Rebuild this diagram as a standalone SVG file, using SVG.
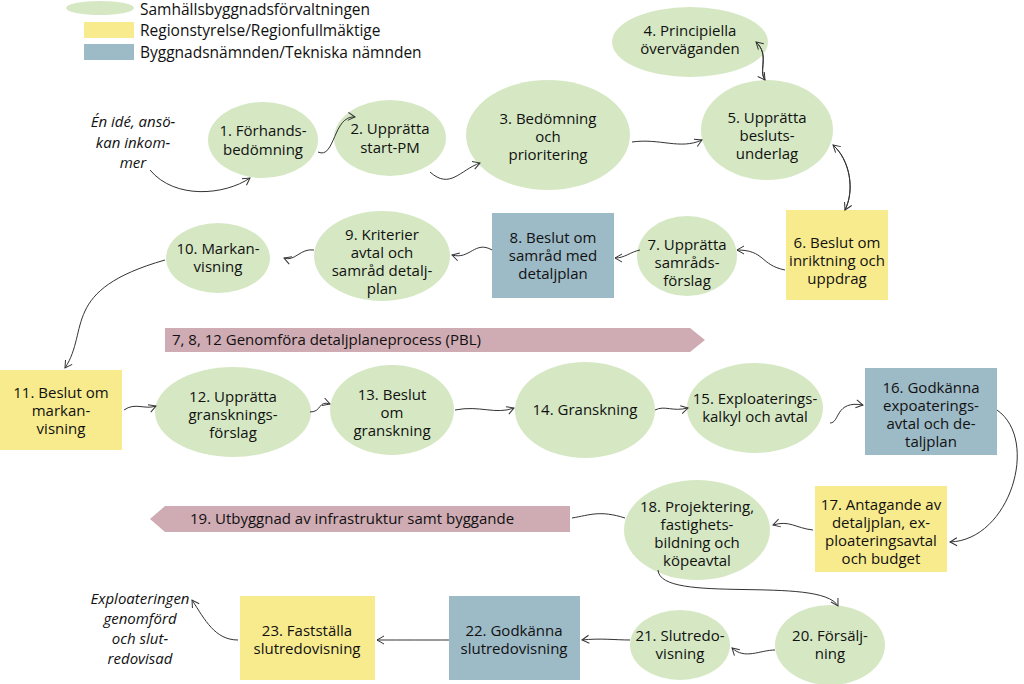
<svg xmlns="http://www.w3.org/2000/svg" width="1024" height="684" viewBox="0 0 1024 684">
<style>
text{font-family:"Open Sans","Liberation Sans",sans-serif;font-size:15px;fill:#111;text-anchor:middle}
.it{font-style:italic}
.lg{text-anchor:start}
.g{fill:#d5e8c3}
.y{fill:#f8eb8e}
.b{fill:#9dbac7}
.p{fill:#cfabb3}
#connectors path{fill:none;stroke:#333;stroke-width:1}
</style>
<defs>
<marker id="a" markerWidth="10" markerHeight="10" refX="8" refY="5" orient="auto" markerUnits="userSpaceOnUse">
<path d="M1,1 L8,5 L1,9" fill="none" stroke="#333" stroke-width="1"/>
</marker>
</defs>
<rect width="1024" height="684" fill="#fff"/>
<g id="legend">
<ellipse class="g" cx="100" cy="8" rx="34" ry="7"/>
<rect class="y" x="84" y="22" width="50" height="16"/>
<rect class="b" x="84" y="44" width="50" height="16"/>
<text class="lg" x="140" y="15" style="font-size:15.5px">Samhällsbyggnadsförvaltningen</text>
<text class="lg" x="140" y="36" style="font-size:15.5px">Regionstyrelse/Regionfullmäktige</text>
<text class="lg" x="140" y="58" style="font-size:15.5px">Byggnadsnämnden/Tekniska nämnden</text>
</g>
<g id="start"><text class="it" x="133" y="127">Én idé, ansö-</text><text class="it" x="133" y="148">kan inkom-</text><text class="it" x="133" y="168">mer</text></g>
<g id="n1"><ellipse class="g" cx="263" cy="140" rx="55" ry="38"/><text x="263" y="136">1. Förhands-</text><text x="263" y="155">bedömning</text></g>
<g id="n2"><ellipse class="g" cx="390" cy="138" rx="56" ry="38"/><text x="390" y="134">2. Upprätta</text><text x="390" y="153">start-PM</text></g>
<g id="n3"><ellipse class="g" cx="548" cy="135" rx="82" ry="55"/><text x="548" y="124">3. Bedömning</text><text x="548" y="142">och</text><text x="548" y="160">prioritering</text></g>
<g id="n4"><ellipse class="g" cx="690" cy="42" rx="78" ry="35"/><text x="690" y="36">4. Principiella</text><text x="690" y="54">överväganden</text></g>
<g id="n5"><ellipse class="g" cx="767" cy="130" rx="66" ry="50"/><text x="767" y="123">5. Upprätta</text><text x="767" y="141">besluts-</text><text x="767" y="159">underlag</text></g>
<g id="n6"><rect class="y" x="786" y="210" width="102" height="90"/><text x="837" y="248">6. Beslut om</text><text x="837" y="266">inriktning och</text><text x="837" y="284">uppdrag</text></g>
<g id="n7"><ellipse class="g" cx="687" cy="256" rx="50" ry="40"/><text x="687" y="250">7. Upprätta</text><text x="687" y="268">samråds-</text><text x="687" y="286">förslag</text></g>
<g id="n8"><rect class="b" x="492" y="213" width="122" height="85"/><text x="553" y="243">8. Beslut om</text><text x="553" y="261">samråd med</text><text x="553" y="279">detaljplan</text></g>
<g id="n9"><ellipse class="g" cx="382" cy="256" rx="68" ry="45"/><text x="382" y="240">9. Kriterier</text><text x="382" y="258">avtal och</text><text x="382" y="276">samråd detalj-</text><text x="382" y="294">plan</text></g>
<g id="n10"><ellipse class="g" cx="218" cy="258" rx="52" ry="35"/><text x="218" y="254">10. Markan-</text><text x="218" y="272">visning</text></g>
<g id="a1"><path class="p" d="M165,328 H690 L705,340 L690,352 H165 Z"/><text class="lg" x="172" y="345">7, 8, 12  Genomföra detaljplaneprocess (PBL)</text></g>
<g id="n11"><rect class="y" x="0" y="370" width="122" height="80"/><text x="61" y="398">11. Beslut om</text><text x="61" y="416">markan-</text><text x="61" y="434">visning</text></g>
<g id="n12"><ellipse class="g" cx="233" cy="412" rx="78" ry="45"/><text x="233" y="402">12.  Upprätta</text><text x="233" y="420">gransknings-</text><text x="233" y="438">förslag</text></g>
<g id="n13"><ellipse class="g" cx="392" cy="410" rx="62" ry="45"/><text x="392" y="400">13. Beslut</text><text x="392" y="418">om</text><text x="392" y="436">granskning</text></g>
<g id="n14"><ellipse class="g" cx="585" cy="410" rx="70" ry="48"/><text x="585" y="415">14. Granskning</text></g>
<g id="n15"><ellipse class="g" cx="755" cy="408" rx="68" ry="45"/><text x="755" y="404">15. Exploaterings-</text><text x="755" y="422">kalkyl och avtal</text></g>
<g id="n16"><rect class="b" x="865" y="368" width="132" height="87"/><text x="931" y="393">16. Godkänna</text><text x="931" y="411">expoaterings-</text><text x="931" y="429">avtal och de-</text><text x="931" y="447">taljplan</text></g>
<g id="n17"><rect class="y" x="815" y="486" width="132" height="86"/><text x="881" y="510">17. Antagande av</text><text x="881" y="528">detaljplan, ex-</text><text x="881" y="546">ploateringsavtal</text><text x="881" y="564">och budget</text></g>
<g id="n18"><ellipse class="g" cx="697" cy="530" rx="73" ry="50"/><text x="697" y="512">18. Projektering,</text><text x="697" y="530">fastighets-</text><text x="697" y="548">bildning och</text><text x="697" y="566">köpeavtal</text></g>
<g id="a2"><path class="p" d="M570,506 H165 L150,519 L165,532 H570 Z"/><text class="lg" x="190" y="524">19. Utbyggnad av infrastruktur samt byggande</text></g>
<g id="n20"><ellipse class="g" cx="830" cy="645" rx="55" ry="40"/><text x="830" y="641">20. Försälj-</text><text x="830" y="659">ning</text></g>
<g id="n21"><ellipse class="g" cx="680" cy="645" rx="50" ry="35"/><text x="680" y="641">21. Slutredo-</text><text x="680" y="659">visning</text></g>
<g id="n22"><rect class="b" x="449" y="596" width="131" height="84"/><text x="514" y="636">22. Godkänna</text><text x="514" y="654">slutredovisning</text></g>
<g id="n23"><rect class="y" x="240" y="596" width="135" height="84"/><text x="307" y="636">23. Fastställa</text><text x="307" y="654">slutredovisning</text></g>
<g id="end"><text class="it" x="140" y="604">Exploateringen</text><text class="it" x="140" y="624">genomförd</text><text class="it" x="140" y="644">och slut-</text><text class="it" x="140" y="664">redovisad</text></g>
<g id="connectors">
<path d="M150,170 C175,200 225,195 250,178" marker-end="url(#a)"/>
<path d="M318,152 C335,160 333,115 355,117" marker-end="url(#a)"/>
<path d="M430,172 C450,190 460,170 480,163" marker-end="url(#a)"/>
<path d="M632,142 C660,138 680,150 702,140" marker-end="url(#a)"/>
<path d="M765,80 C758,70 770,55 756,42" marker-end="url(#a)"/>
<path d="M756,42 C770,55 758,70 765,80" marker-end="url(#a)"/>
<path d="M833,145 C850,160 855,190 845,210" marker-end="url(#a)"/>
<path d="M845,210 C855,190 850,160 833,145" marker-end="url(#a)"/>
<path d="M785,270 C760,265 765,250 737,250" marker-end="url(#a)"/>
<path d="M640,250 C630,252 625,258 615,258" marker-end="url(#a)"/>
<path d="M492,250 C475,240 470,260 452,255" marker-end="url(#a)"/>
<path d="M314,250 C300,248 295,262 284,258" marker-end="url(#a)"/>
<path d="M165,260 C60,290 90,330 65,368" marker-end="url(#a)"/>
<path d="M124,410 C135,402 145,410 156,406" marker-end="url(#a)"/>
<path d="M310,412 C322,412 318,400 330,404" marker-end="url(#a)"/>
<path d="M455,410 C480,405 495,415 514,408" marker-end="url(#a)"/>
<path d="M655,410 C665,405 672,412 688,408" marker-end="url(#a)"/>
<path d="M830,423 C840,423 835,400 863,405" marker-end="url(#a)"/>
<path d="M997,410 C1040,440 1010,540 950,542" marker-end="url(#a)"/>
<path d="M813,530 C795,528 790,520 773,525" marker-end="url(#a)"/>
<path d="M625,518 C600,510 590,515 572,518"/>
<path d="M658,570 C660,605 820,575 838,606" marker-end="url(#a)"/>
<path d="M775,650 C760,650 745,660 732,648" marker-end="url(#a)"/>
<path d="M630,640 C615,640 600,638 582,640" marker-end="url(#a)"/>
<path d="M449,640 C430,640 400,640 377,640" marker-end="url(#a)"/>
<path d="M238,640 C215,640 205,620 192,600" marker-end="url(#a)"/>
</g>
</svg>
